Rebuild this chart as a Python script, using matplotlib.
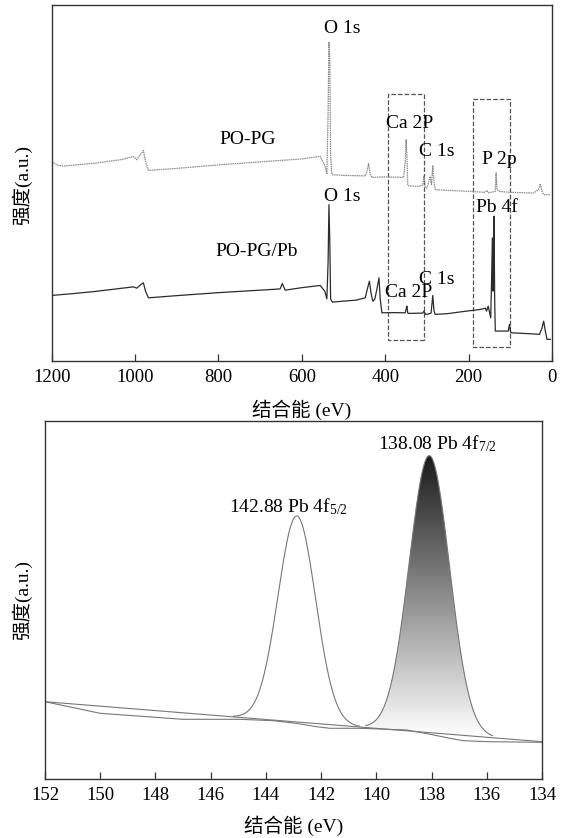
import matplotlib
matplotlib.use('Agg')
import matplotlib.pyplot as plt
import numpy as np
from matplotlib.patches import Rectangle
from matplotlib.colors import LinearSegmentedColormap

plt.rcParams['font.family'] = ['Liberation Serif', 'Noto Sans CJK SC']
plt.rcParams['mathtext.fontset'] = 'custom'
plt.rcParams['mathtext.rm'] = 'Liberation Serif'
plt.rcParams['mathtext.it'] = 'Liberation Serif:italic'

# ---- survey spectra (binding energy eV, intensity a.u.) ----
pg_be = [1200, 1185, 1170, 1100, 1030, 1004, 996, 985, 980, 975, 968, 900, 800, 700, 600,
         556, 545, 540, 537, 535, 533, 531, 528, 500, 448, 444, 440, 436, 432, 400, 356,
         352, 350, 348, 346, 344, 320, 310, 307, 304, 300, 292, 289, 286, 283, 280, 250,
         200, 160, 156, 152, 136, 134, 132, 128, 100, 60, 44, 32, 28, 24, 20, 10, 4]
pg_int = [200, 196, 195.5, 198, 202, 205, 201.7, 208, 211, 200, 191, 193, 196.5, 199.5, 202.5,
          205, 196, 188, 250, 320, 300, 205, 186.7, 186, 185.5, 190, 197.7, 187, 184, 184.5, 184,
          200, 221.7, 205, 176.7, 175.5, 175, 176, 185, 174, 173.3, 185, 176, 196, 180, 171.7, 171,
          170, 169, 171, 168.5, 170, 188.3, 172, 170, 169, 168.5, 168.3, 172, 177.7, 170, 166.7, 166.7, 166.7]

pb_be = [1200, 1150, 1100, 1050, 1004, 996, 985, 980, 975, 968, 900, 800, 700, 660, 652, 647,
         640, 600, 556, 545, 540, 537, 535, 533, 531, 527, 500, 470, 448, 443, 438, 434, 430,
         425, 420, 415, 412, 408, 380, 352, 350, 348, 346, 344, 310, 307, 304, 300, 290, 286,
         283, 280, 250, 205, 175, 165, 160, 157, 153, 147, 145, 143, 141.5, 140, 139, 137.5,
         136, 120, 105, 102, 99, 60, 30, 24, 20, 16, 12, 4]
pb_int = [65.7, 67.5, 69.5, 72, 74.3, 73, 77, 78.3, 70, 63.3, 65.5, 68.5, 71, 72, 72.3, 77.7,
          71, 73.5, 75.7, 70, 62.3, 100, 156.7, 120, 62, 59, 60, 61, 63.3, 72, 80, 68, 60,
          62, 72, 83.3, 62, 48.3, 48.5, 48.3, 52, 55, 48, 47.7, 48, 50, 47, 46.7, 48, 65.7,
          50, 46.7, 47.5, 50, 51.5, 52.3, 53, 50, 55, 43.3, 80, 123.3, 70, 100, 145, 60,
          30, 30, 30, 36.7, 28.3, 27.5, 26.7, 33, 40, 30, 21.7, 21.7]

survey_labels = ['O 1s', 'PO-PG', 'Ca 2P', 'C 1s', 'P 2p', 'O 1s', 'Pb 4f', 'PO-PG/Pb', 'C 1s', 'Ca 2P']
survey_label_x = [504, 730, 342, 276, 126, 504, 132, 708, 276, 344]
survey_label_y = [333, 221.7, 238, 210, 202, 165, 154, 110, 81.7, 68.3]

# dashed boxes: (BE high, BE low, int low, int high)
boxes = [(394, 306, 20.7, 268), (190, 101, 14, 262.7)]

# ---- Pb 4f high resolution ----
peak_center = [142.88, 138.08]
peak_height = [206, 277]
peak_fwhm = [1.6, 1.72]
peak_labels = [r'142.88 Pb 4f$_{\mathrm{5/2}}$', r'138.08 Pb 4f$_{\mathrm{7/2}}$']
peak_label_x = [143.19, 137.79]
peak_label_y = [272, 335.7]

line_bg_be = [152, 134]
line_bg_int = [77.3, 37.3]

shirley_be = [152, 150.0, 147.0, 144.94, 143.73, 142.91, 142.16, 141.68, 140.59, 138.9,
              138.1, 137.33, 136.85, 135.94, 134]
shirley_int = [77.3, 65.7, 59.7, 59.7, 58.3, 55.7, 52.3, 50.7, 50.7, 49,
               45, 40.7, 38.3, 37.3, 36.7]

fig = plt.figure(figsize=(5.65, 8.38), dpi=100)
ax1 = fig.add_axes([0.0915, 0.5692, 0.8855, 0.4248])
ax2 = fig.add_axes([0.0796, 0.0704, 0.8797, 0.4272])

spine_col = '#333333'
for ax in (ax1, ax2):
    for sp in ax.spines.values():
        sp.set_edgecolor(spine_col)
        sp.set_linewidth(1.0)
    ax.tick_params(axis='x', direction='in', length=5, width=0.9, colors=spine_col,
                   labelsize=13.5, labelcolor='black', pad=6)
    ax.tick_params(axis='y', left=False, labelleft=False)

# top panel
ax1.plot(pg_be, pg_int, color='#8a8a8a', lw=0.9, ls=(0, (1.2, 0.6)))
ax1.plot(pb_be, pb_int, color='#2b2b2b', lw=0.9)
for t, x, y in zip(survey_labels, survey_label_x, survey_label_y):
    ax1.text(x, y, t, fontsize=14, ha='center', va='center')
for b in boxes:
    ax1.add_patch(Rectangle((b[1], b[2]), b[0] - b[1], b[3] - b[2], fill=False,
                            ls='--', lw=0.9, edgecolor='#555555'))
ax1.set_xlim(1200, 0)
ax1.set_ylim(0, 356.7)
ax1.set_xticks([1200, 1000, 800, 600, 400, 200, 0])

# bottom panel
xs = np.linspace(152, 134, 721)
bg = np.interp(xs, line_bg_be[::-1], line_bg_int[::-1])
ax2.plot(line_bg_be, line_bg_int, color='#777777', lw=0.8)
ax2.plot(shirley_be, shirley_int, color='#777777', lw=0.8)
cmap = LinearSegmentedColormap.from_list('g', ['#ffffff', '#1a1a1a'], N=256)
for i, (c, h, w) in enumerate(zip(peak_center, peak_height, peak_fwhm)):
    s = w / 2.3548
    y = bg + h * np.exp(-0.5 * ((xs - c) / s) ** 2)
    m = np.abs(xs - c) < 2.3
    if i == 1:
        poly = ax2.fill_between(xs[m], bg[m], y[m], color='none', lw=0)
        grad = np.linspace(0, 1, 256).reshape(-1, 1)
        im = ax2.imshow(grad, extent=[xs[m].max(), xs[m].min(), 42, y[m].max()],
                        origin='lower', aspect='auto', cmap=cmap, zorder=1)
        im.set_clip_path(poly.get_paths()[0], transform=ax2.transData)
    ax2.plot(xs[m], y[m], color='#777777', lw=0.8, zorder=2)
for t, x, y in zip(peak_labels, peak_label_x, peak_label_y):
    ax2.text(x, y, t, fontsize=14, ha='center', va='center')
ax2.set_xlim(152, 134)
ax2.set_ylim(0, 358)
ax2.set_xticks(np.arange(152, 133, -2))

fig.text(0.5 * (0.0915 + 0.977), 1 - 410 / 838, '结合能 (eV)', fontsize=14, ha='center', va='center')
fig.text(0.5 * (0.0796 + 0.9593), 1 - 826 / 838, '结合能 (eV)', fontsize=14, ha='center', va='center')
fig.text(22 / 565, 1 - 185 / 838, '强度(a.u.)', fontsize=14, rotation=90, ha='center', va='center')
fig.text(22 / 565, 1 - 600 / 838, '强度(a.u.)', fontsize=14, rotation=90, ha='center', va='center')

fig.savefig('out.png', dpi=100)
